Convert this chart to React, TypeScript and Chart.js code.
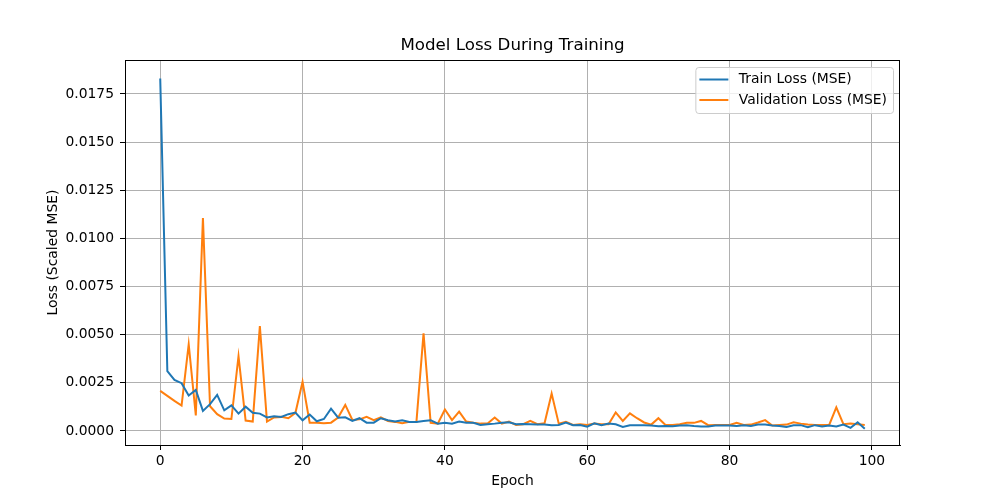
import React, { useEffect, useRef } from "react";
import { Chart, registerables, ChartConfiguration, Plugin } from "chart.js";

Chart.register(...registerables);

const TITLE = "Model Loss During Training";
const X_LABEL = "Epoch";
const Y_LABEL = "Loss (Scaled MSE)";

const TRAIN_LABEL = "Train Loss (MSE)";
const VAL_LABEL = "Validation Loss (MSE)";

// one value per epoch, 0..99
const TRAIN_LOSS = [
  0.0183, 0.0031, 0.00265, 0.00248, 0.00184, 0.00213, 0.00104, 0.00139, 0.00187, 0.00107,
  0.00133, 0.0009, 0.00126, 0.00094, 0.0009, 0.0007, 0.00076, 0.00073, 0.00087, 0.00095,
  0.00055, 0.00085, 0.0005, 0.00062, 0.00116, 0.00069, 0.00071, 0.00052, 0.00066, 0.00043,
  0.00043, 0.00066, 0.00056, 0.00049, 0.00056, 0.00047, 0.00047, 0.00052, 0.00056, 0.00038,
  0.00043, 0.00038, 0.00049, 0.00042, 0.00042, 0.00031, 0.00035, 0.00038, 0.00043, 0.00045,
  0.00035, 0.00036, 0.00035, 0.00033, 0.00033, 0.0003, 0.00031, 0.00043, 0.0003, 0.00031,
  0.00022, 0.0004, 0.0003, 0.00038, 0.00035, 0.00021, 0.0003, 0.0003, 0.0003, 0.00028,
  0.00024, 0.00026, 0.00024, 0.00028, 0.0003, 0.00026, 0.00023, 0.00023, 0.00028, 0.00028,
  0.00028, 0.00026, 0.0003, 0.00026, 0.00033, 0.00033, 0.00028, 0.00026, 0.0002, 0.0003,
  0.0003, 0.00019, 0.0003, 0.00023, 0.00028, 0.00023, 0.00033, 0.00016, 0.00045, 0.00012,
];

const VAL_LOSS = [
  0.00208, 0.00182, 0.00156, 0.00132, 0.0045, 0.00081, 0.01105, 0.00128, 0.00087, 0.00064,
  0.00062, 0.00388, 0.00054, 0.00049, 0.00544, 0.00049, 0.0007, 0.00073, 0.00066, 0.00094,
  0.00255, 0.00043, 0.00043, 0.0004, 0.00043, 0.0007, 0.00135, 0.00057, 0.0006, 0.00073,
  0.00056, 0.0007, 0.00052, 0.00047, 0.0004, 0.00047, 0.00047, 0.00507, 0.00042, 0.00038,
  0.00111, 0.00056, 0.001, 0.00049, 0.00043, 0.00038, 0.00038, 0.0007, 0.00038, 0.00049,
  0.00031, 0.00035, 0.00052, 0.00035, 0.0004, 0.00194, 0.00038, 0.00047, 0.00031, 0.00035,
  0.00031, 0.00038, 0.00035, 0.00035, 0.00096, 0.00052, 0.00091, 0.00066, 0.00044, 0.00033,
  0.00066, 0.00031, 0.00031, 0.00035, 0.00042, 0.00042, 0.00052, 0.0003, 0.00031, 0.00031,
  0.00031, 0.00042, 0.00031, 0.00033, 0.00044, 0.00056, 0.00028, 0.00031, 0.00033, 0.00045,
  0.00038, 0.00033, 0.00031, 0.00031, 0.00031, 0.00122, 0.00035, 0.00038, 0.00035, 0.00031,
];

const X_TICKS = [0, 20, 40, 60, 80, 100];
const Y_TICKS = [0, 0.0025, 0.005, 0.0075, 0.01, 0.0125, 0.015, 0.0175];

const FONT = "'DejaVu Sans', sans-serif";
const FS = 13.89;

// box with a border round the plot, and a matplotlib-like legend in the upper right
const framePlugin: Plugin<"line"> = {
  id: "frame",
  afterDatasetsDraw(chart) {
    const { ctx, chartArea: a } = chart;
    ctx.save();
    ctx.strokeStyle = "#000";
    ctx.lineWidth = 1;
    ctx.strokeRect(Math.round(a.left) + 0.5, Math.round(a.top) + 0.5,
      Math.round(a.right - a.left) - 1, Math.round(a.bottom - a.top));

    ctx.font = `${FS}px ${FONT}`;
    const ds = chart.data.datasets;
    const textW = Math.max(...ds.map((d) => ctx.measureText(String(d.label)).width));
    const w = 5.6 + 27.8 + 11.1 + textW + 5;
    const h = 46;
    const right = a.right - 7;
    const top = a.top + 7;
    const left = right - w;

    ctx.beginPath();
    ctx.roundRect(left + 0.5, top + 0.5, w, h, 3);
    ctx.fillStyle = "rgba(255,255,255,0.8)";
    ctx.fill();
    ctx.strokeStyle = "#cccccc";
    ctx.stroke();

    ds.forEach((d, i) => {
      const y = top + 12.5 + i * 20.5;
      ctx.beginPath();
      ctx.moveTo(left + 4, y);
      ctx.lineTo(left + 33, y);
      ctx.strokeStyle = String(d.borderColor);
      ctx.lineWidth = 2;
      ctx.stroke();
      ctx.fillStyle = "#000";
      ctx.textBaseline = "middle";
      ctx.textAlign = "left";
      ctx.fillText(String(d.label), left + 43.5, y);
    });
    ctx.restore();
  },
};

export default function App() {
  const canvasRef = useRef<HTMLCanvasElement | null>(null);

  useEffect(() => {
    document.body.style.margin = "0";
    if (!canvasRef.current) return;

    const config: ChartConfiguration<"line"> = {
      type: "line",
      data: {
        datasets: [
          {
            label: TRAIN_LABEL,
            data: TRAIN_LOSS.map((v, i) => ({ x: i, y: v })),
            borderColor: "#1f77b4",
            backgroundColor: "#1f77b4",
            borderWidth: 2,
            pointRadius: 0,
            tension: 0,
          },
          {
            label: VAL_LABEL,
            data: VAL_LOSS.map((v, i) => ({ x: i, y: v })),
            borderColor: "#ff7f0e",
            backgroundColor: "#ff7f0e",
            borderWidth: 2,
            pointRadius: 0,
            tension: 0,
          },
        ],
      },
      options: {
        animation: false,
        responsive: false,
        maintainAspectRatio: false,
        layout: { padding: { left: 0, right: 100, top: 0, bottom: 0 } },
        plugins: {
          legend: { display: false },
          tooltip: { enabled: false },
          title: {
            display: true,
            text: TITLE,
            fullSize: false,
            color: "#000",
            font: { family: FONT, size: 16.67, weight: "normal", lineHeight: 1.2 },
            padding: { top: 36, bottom: 4 },
          },
        },
        scales: {
          x: {
            type: "linear",
            min: -4.95,
            max: 103.95,
            afterBuildTicks: (s) => {
              s.ticks = X_TICKS.map((v) => ({ value: v }));
            },
            afterFit: (s) => {
              s.height = 55;
            },
            ticks: {
              color: "#000",
              font: { family: FONT, size: FS },
              padding: 3,
              maxRotation: 0,
              callback: (v) => String(v),
            },
            grid: {
              color: "#b0b0b0",
              lineWidth: 1,
              tickColor: "#000",
              tickLength: 5,
            },
            border: { display: true, color: "#000", width: 1 },
            title: {
              display: true,
              text: X_LABEL,
              color: "#000",
              font: { family: FONT, size: FS, lineHeight: 1.2 },
              padding: { top: 0, bottom: 10 },
            },
          },
          y: {
            type: "linear",
            min: -0.00073,
            max: 0.01926,
            afterBuildTicks: (s) => {
              s.ticks = Y_TICKS.map((v) => ({ value: v }));
            },
            afterFit: (s) => {
              s.width = 125;
            },
            ticks: {
              color: "#000",
              font: { family: FONT, size: FS },
              padding: 6,
              callback: (v) => Number(v).toFixed(4),
            },
            grid: {
              color: "#b0b0b0",
              lineWidth: 1,
              tickColor: "#000",
              tickLength: 5,
            },
            border: { display: true, color: "#000", width: 1 },
            title: {
              display: true,
              text: Y_LABEL,
              color: "#000",
              font: { family: FONT, size: FS, lineHeight: 1.2 },
              padding: { top: 45, bottom: 0 },
            },
          },
        },
      },
      plugins: [framePlugin],
    };

    const chart = new Chart(canvasRef.current, config);
    return () => {
      chart.destroy();
    };
  }, []);

  return (
    <div style={{ width: 1000, height: 500, background: "#fff" }}>
      <canvas ref={canvasRef} width={1000} height={500} />
    </div>
  );
}
